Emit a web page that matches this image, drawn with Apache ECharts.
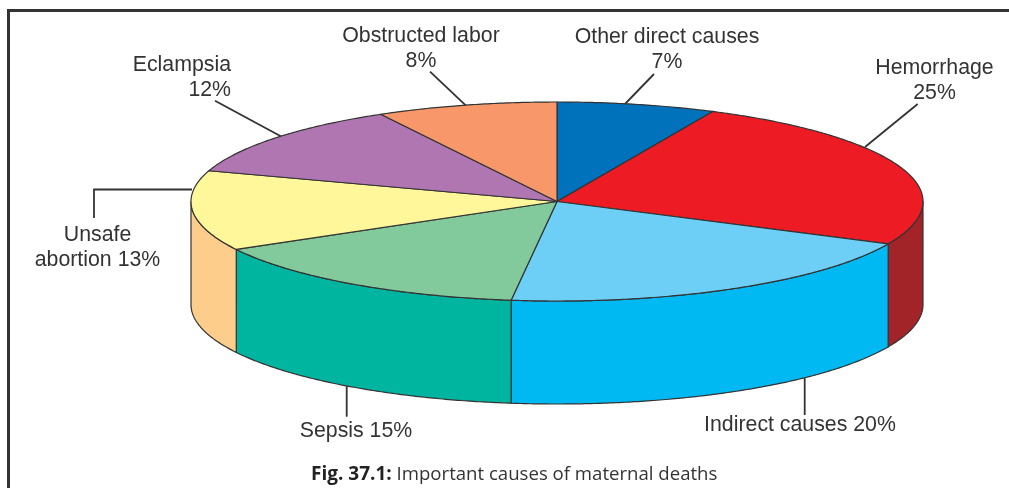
<!DOCTYPE html>
<html><head><meta charset="utf-8">
<style>html,body{margin:0;padding:0;background:#fff}#c{width:1009px;height:488px}</style>
<script src="https://cdn.jsdelivr.net/npm/echarts@6/dist/echarts.min.js"></script>
</head><body><div id="c"></div>
<script>
// Data: clockwise from the top of the pie
const causes = ['Other direct causes','Hemorrhage','Indirect causes','Sepsis','Unsafe abortion','Eclampsia','Obstructed labor'];
const shares = [7,25,20,15,13,12,8];
const topColors = ['#0072BC','#ED1C24','#6DCFF6','#82CA9C','#FFF799','#B076B2','#F7976A'];
const wallColors = ['#005A96','#A32428','#00B9F2','#00B5A0','#FDCD8C','#8A5A8C','#C57850'];
const caption = ['Fig. 37.1:',' Important causes of maternal deaths'];

// Layout
const CX=557, CY=201.5, RX=366, RY=99.5, DEPTH=103, STROKE='#333', LW=1.2;
const total = shares.reduce((a,b)=>a+b,0);
const startAngle = i => shares.slice(0,i).reduce((a,b)=>a+b,0)/total*360;
const rim = (deg,dy) => { const t=deg*Math.PI/180; return [CX+RX*Math.sin(t), CY-RY*Math.cos(t)+(dy||0)]; };
const arc = (a,b,dy) => { const n=Math.max(2,Math.ceil(Math.abs(b-a)*2)), p=[]; for(let k=0;k<=n;k++) p.push(rim(a+(b-a)*k/n,dy)); return p; };

function renderTop(params, api){
  const i=params.dataIndex, a=startAngle(i), b=a+api.value(0)/total*360;
  return {type:'polygon', shape:{points:[[CX,CY]].concat(arc(a,b))},
    style:{fill:topColors[i], stroke:STROKE, lineWidth:LW, lineJoin:'round'}};
}
function renderWall(params, api){
  const i=params.dataIndex, a=Math.max(90,startAngle(i)), b=Math.min(270,startAngle(i)+api.value(0)/total*360);
  if(b<=a) return null;
  return {type:'polygon', shape:{points:arc(a,b).concat(arc(b,a,DEPTH))},
    style:{fill:wallColors[i], stroke:STROKE, lineWidth:LW, lineJoin:'round'}};
}

const pct = i => shares[i]+'%';
const text = (x,y,t,align) => ({type:'text', x, y, silent:true,
  style:{text:t, fill:'#333', font:'21.3px "Liberation Sans"', align:align||'center', verticalAlign:'top', lineHeight:24.5}});
const lead = pts => ({type:'polyline', silent:true, shape:{points:pts}, style:{fill:null, stroke:'#333', lineWidth:1.8}});

const option = {
  animation:false,
  backgroundColor:'#fff',
  title:{left:311, top:465, padding:0, text:'{b|'+caption[0]+'}{r|'+caption[1]+'}',
    textStyle:{rich:{
      b:{fontFamily:'Open Sans',fontWeight:'bold',fontSize:19,color:'#222'},
      r:{fontFamily:'Open Sans',fontWeight:'normal',fontSize:18.6,color:'#333'}}}},
  graphic:[
    {type:'polyline', silent:true, shape:{points:[[1009,10.5],[8.5,10.5],[8.5,488]]}, style:{fill:null, stroke:'#333', lineWidth:3}},
    lead([[215,100.7],[281.7,136.7]]),
    lead([[94,218],[94,189.5],[192,189.5]]),
    lead([[917.7,104],[865,147]]),
    lead([[430,71.7],[466,105.7]]),
    lead([[654,74],[625,104]]),
    lead([[346.7,386],[346.7,416.7]]),
    lead([[804.7,378],[804.7,415]]),
    text(667,25,causes[0]+'\n'+pct(0)),
    text(934.5,56,causes[1]+'\n'+pct(1)),
    text(800,413,causes[2]+' '+pct(2)),
    text(356,419,causes[3]+' '+pct(3)),
    text(97.5,223,'Unsafe\nabortion '+pct(4)),
    text(231,53,causes[5]+'\n'+pct(5),'right'),
    text(421,24,causes[6]+'\n'+pct(6))
  ],
  series:[
    {type:'custom', coordinateSystem:'none', z:1, silent:true, renderItem:renderWall, data:shares.map(v=>[v])},
    {type:'custom', coordinateSystem:'none', z:2, silent:true, renderItem:renderTop, data:shares.map(v=>[v])}
  ]
};
echarts.init(document.getElementById('c'),null,{renderer:'canvas'}).setOption(option);
</script></body></html>
